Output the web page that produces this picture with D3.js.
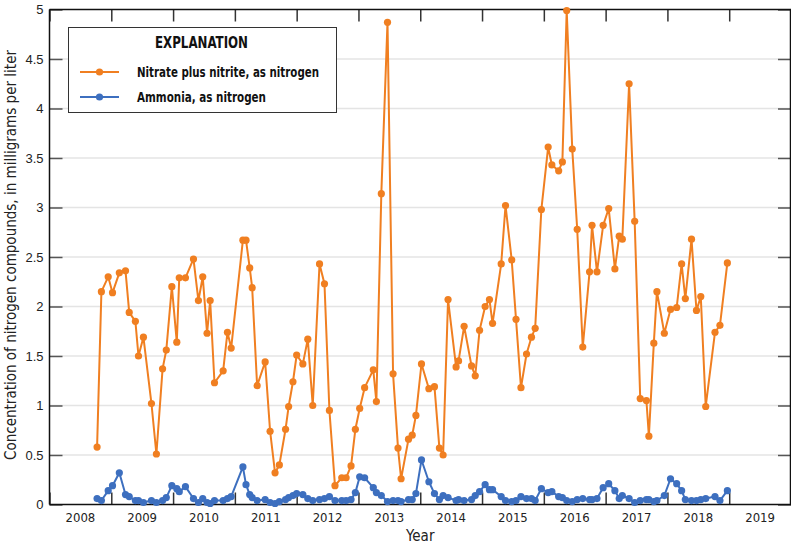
<!DOCTYPE html>
<html>
<head>
<meta charset="utf-8">
<script src="https://cdn.jsdelivr.net/npm/d3@7"></script>
<style>
  html, body { margin: 0; padding: 0; background: #fff; }
  svg { display: block; font-family: "Liberation Sans Narrow", "DejaVu Sans Condensed", "Roboto Condensed", sans-serif; }
</style>
</head>
<body>
<svg id="chart" width="791" height="546"></svg>
<script>
// Sample dates (decimal years)
const sampleDates = [
  2008.77, 2008.84, 2008.95, 2009.02, 2009.13, 2009.23, 2009.29, 2009.39, 2009.44, 2009.52,
  2009.65, 2009.73, 2009.83, 2009.89, 2009.98, 2010.06, 2010.10, 2010.20, 2010.33, 2010.41,
  2010.48, 2010.55, 2010.60, 2010.67, 2010.81, 2010.88, 2010.94, 2011.13, 2011.18, 2011.24,
  2011.28, 2011.36, 2011.49, 2011.57, 2011.65, 2011.72, 2011.82, 2011.87, 2011.94, 2012.00,
  2012.10, 2012.18, 2012.26, 2012.37, 2012.45, 2012.53, 2012.62, 2012.73, 2012.80, 2012.88,
  2012.95, 2013.02, 2013.10, 2013.24, 2013.29, 2013.37, 2013.47, 2013.56, 2013.64, 2013.69,
  2013.81, 2013.87, 2013.93, 2014.02, 2014.14, 2014.23, 2014.31, 2014.37, 2014.45, 2014.58,
  2014.62, 2014.71, 2014.83, 2014.89, 2014.96, 2015.05, 2015.12, 2015.17, 2015.31, 2015.38,
  2015.48, 2015.55, 2015.63, 2015.72, 2015.80, 2015.86, 2015.96, 2016.07, 2016.13, 2016.24,
  2016.30, 2016.37, 2016.46, 2016.54, 2016.63, 2016.74, 2016.78, 2016.86, 2016.96, 2017.05,
  2017.15, 2017.22, 2017.27, 2017.38, 2017.47, 2017.56, 2017.66, 2017.70, 2017.78, 2017.83,
  2017.95, 2018.05, 2018.15, 2018.23, 2018.29, 2018.39, 2018.47, 2018.54, 2018.62, 2018.77,
  2018.85, 2018.97
];

// Nitrate plus nitrite, as nitrogen (mg/L)
const nitrateValues = [
  0.58, 2.15, 2.30, 2.14, 2.34, 2.36, 1.94, 1.85, 1.50, 1.69,
  1.02, 0.51, 1.37, 1.56, 2.20, 1.64, 2.29, 2.29, 2.48, 2.06,
  2.30, 1.73, 2.06, 1.23, 1.35, 1.74, 1.58, 2.67, 2.67, 2.39,
  2.19, 1.20, 1.44, 0.74, 0.32, 0.40, 0.76, 0.99, 1.24, 1.51,
  1.42, 1.67, 1.00, 2.43, 2.23, 0.95, 0.19, 0.27, 0.27, 0.39,
  0.76, 0.97, 1.18, 1.36, 1.04, 3.14, 4.87, 1.32, 0.57, 0.26,
  0.66, 0.70, 0.90, 1.42, 1.17, 1.19, 0.57, 0.50, 2.07, 1.39,
  1.45, 1.80, 1.40, 1.30, 1.76, 2.00, 2.07, 1.83, 2.43, 3.02,
  2.47, 1.87, 1.18, 1.52, 1.69, 1.78, 2.98, 3.61, 3.43, 3.37,
  3.46, 4.99, 3.59, 2.78, 1.59, 2.35, 2.82, 2.35, 2.82, 2.99,
  2.38, 2.71, 2.68, 4.25, 2.86, 1.07, 1.05, 0.69, 1.63, 2.15,
  1.73, 1.97, 1.99, 2.43, 2.08, 2.68, 1.96, 2.10, 0.99, 1.74,
  1.81, 2.44
];

// Ammonia, as nitrogen (mg/L)
const ammoniaValues = [
  0.06, 0.04, 0.14, 0.19, 0.32, 0.10, 0.08, 0.04, 0.04, 0.02,
  0.04, 0.02, 0.04, 0.07, 0.19, 0.16, 0.13, 0.18, 0.06, 0.02,
  0.06, 0.02, 0.01, 0.04, 0.04, 0.06, 0.08, 0.38, 0.20, 0.10,
  0.07, 0.04, 0.05, 0.02, 0.01, 0.03, 0.05, 0.07, 0.09, 0.11,
  0.10, 0.06, 0.04, 0.05, 0.06, 0.08, 0.04, 0.04, 0.04, 0.05,
  0.12, 0.28, 0.27, 0.17, 0.12, 0.09, 0.03, 0.04, 0.04, 0.03,
  0.05, 0.05, 0.11, 0.45, 0.23, 0.11, 0.05, 0.09, 0.07, 0.04,
  0.05, 0.04, 0.05, 0.09, 0.13, 0.20, 0.15, 0.15, 0.08, 0.04,
  0.03, 0.04, 0.08, 0.06, 0.06, 0.04, 0.16, 0.12, 0.13, 0.08,
  0.07, 0.04, 0.03, 0.05, 0.06, 0.05, 0.05, 0.06, 0.17, 0.21,
  0.14, 0.06, 0.09, 0.06, 0.02, 0.04, 0.05, 0.05, 0.03, 0.04,
  0.09, 0.26, 0.21, 0.14, 0.05, 0.04, 0.04, 0.05, 0.06, 0.08,
  0.04, 0.14
];

const yearLabels = ["2008","2009","2010","2011","2012","2013","2014","2015","2016","2017","2018","2019"];
const yTicks = [0, 0.5, 1, 1.5, 2, 2.5, 3, 3.5, 4, 4.5, 5];
const seriesNames = ["Nitrate plus nitrite, as nitrogen", "Ammonia, as nitrogen"];
const seriesColors = ["#f07f21", "#3d6fbf"];

const svg = d3.select("#chart");
const margin = { left: 49.5, top: 9.5, right: 791, bottom: 504.5 };

const x = d3.scaleLinear().domain([2008, 2020]).range([margin.left, margin.right]);
const y = d3.scaleLinear().domain([0, 5]).range([margin.bottom, margin.top]);

// gridlines
svg.append("g").selectAll("line").data(yTicks.filter(d => d > 0 && d < 5)).join("line")
  .attr("x1", margin.left).attr("x2", margin.right)
  .attr("y1", d => y(d)).attr("y2", d => y(d))
  .attr("stroke", "#e4e4e4").attr("stroke-width", 1.5);

// left axis ticks + labels
const yAxisL = d3.axisLeft(y).tickValues(yTicks).tickSize(-13).tickPadding(20)
  .tickFormat(d => d3.format("")(d));
const gL = svg.append("g").attr("transform", `translate(${margin.left},0)`).call(yAxisL);
gL.select(".domain").remove();
gL.selectAll(".tick line").attr("stroke", "#555").attr("stroke-width", 1.5);
gL.selectAll(".tick text").attr("font-size", 13).attr("fill", "#222").attr("x", -6);

// right ticks
const yAxisR = d3.axisRight(y).tickValues(yTicks).tickSize(-13).tickFormat("");
const gR = svg.append("g").attr("transform", `translate(${margin.right},0)`).call(yAxisR);
gR.select(".domain").remove();
gR.selectAll(".tick line").attr("stroke", "#555").attr("stroke-width", 1.5);

// bottom axis
const yearTicks = d3.range(2008, 2021);
const xAxisB = d3.axisBottom(x).tickValues(yearTicks).tickSize(-12).tickFormat("");
const gB = svg.append("g").attr("transform", `translate(0,${margin.bottom})`).call(xAxisB);
gB.select(".domain").remove();
gB.selectAll(".tick line").attr("stroke", "#333").attr("stroke-width", 1.5);

const xAxisT = d3.axisTop(x).tickValues(yearTicks).tickSize(-12).tickFormat("");
const gT = svg.append("g").attr("transform", `translate(0,${margin.top})`).call(xAxisT);
gT.select(".domain").remove();
gT.selectAll(".tick line").attr("stroke", "#333").attr("stroke-width", 1.5);

// year labels centered in each year
svg.append("g").selectAll("text").data(yearLabels).join("text")
  .attr("x", d => x(+d + 0.5)).attr("y", 522)
  .attr("text-anchor", "middle").attr("font-size", 13).attr("fill", "#222")
  .text(d => d);

// frame
svg.append("line").attr("x1", margin.left).attr("x2", margin.right).attr("y1", margin.top).attr("y2", margin.top)
  .attr("stroke", "#111").attr("stroke-width", 1.5);
svg.append("line").attr("x1", margin.left).attr("x2", margin.right).attr("y1", margin.bottom).attr("y2", margin.bottom)
  .attr("stroke", "#111").attr("stroke-width", 1.5);
svg.append("line").attr("x1", margin.left).attr("x2", margin.left).attr("y1", margin.top).attr("y2", margin.bottom)
  .attr("stroke", "#111").attr("stroke-width", 1.5);
svg.append("line").attr("x1", margin.right - 0.5).attr("x2", margin.right - 0.5).attr("y1", margin.top).attr("y2", margin.bottom)
  .attr("stroke", "#111").attr("stroke-width", 1.5);

// series
const seriesData = [
  sampleDates.map((d, i) => ({ t: d, v: nitrateValues[i] })),
  sampleDates.map((d, i) => ({ t: d, v: ammoniaValues[i] }))
];
const line = d3.line().x(d => x(d.t)).y(d => y(d.v));

[0, 1].forEach(si => {
  const g = svg.append("g");
  g.append("path").datum(seriesData[si]).attr("d", line)
    .attr("fill", "none").attr("stroke", seriesColors[si]).attr("stroke-width", 2)
    .attr("stroke-linejoin", "round");
  g.selectAll("circle").data(seriesData[si]).join("circle")
    .attr("cx", d => x(d.t)).attr("cy", d => y(d.v)).attr("r", 3.6)
    .attr("fill", seriesColors[si]);
});

// legend
const legendWidths = [182, 129];
const lg = svg.append("g");
lg.append("rect").attr("x", 68.5).attr("y", 27.5).attr("width", 268).attr("height", 85)
  .attr("fill", "#fff").attr("stroke", "#333").attr("stroke-width", 1);
lg.append("text").attr("x", 155).attr("y", 48)
  .attr("font-size", 15).attr("font-weight", "bold").attr("fill", "#111")
  .attr("textLength", 93).attr("lengthAdjust", "spacingAndGlyphs").text("EXPLANATION");
seriesNames.forEach((name, i) => {
  const yy = 72 + i * 25;
  lg.append("line").attr("x1", 80).attr("x2", 119).attr("y1", yy).attr("y2", yy)
    .attr("stroke", seriesColors[i]).attr("stroke-width", 2);
  lg.append("circle").attr("cx", 99.5).attr("cy", yy).attr("r", 3.6).attr("fill", seriesColors[i]);
  lg.append("text").attr("x", 137).attr("y", yy + 5).attr("font-size", 14).attr("font-weight", "bold")
    .attr("fill", "#111").attr("textLength", legendWidths[i]).attr("lengthAdjust", "spacingAndGlyphs")
    .text(name);
});

// axis titles
svg.append("text").attr("x", x(2014)).attr("y", 541).attr("text-anchor", "middle")
  .attr("font-size", 15).attr("fill", "#222").text("Year");
svg.append("text").attr("transform", `translate(16,${(margin.top + margin.bottom) / 2 - 2}) rotate(-90)`)
  .attr("text-anchor", "middle").attr("font-size", 15).attr("fill", "#222")
  .attr("textLength", 410).attr("lengthAdjust", "spacingAndGlyphs")
  .text("Concentration of nitrogen compounds, in milligrams per liter");
</script>
</body>
</html>
